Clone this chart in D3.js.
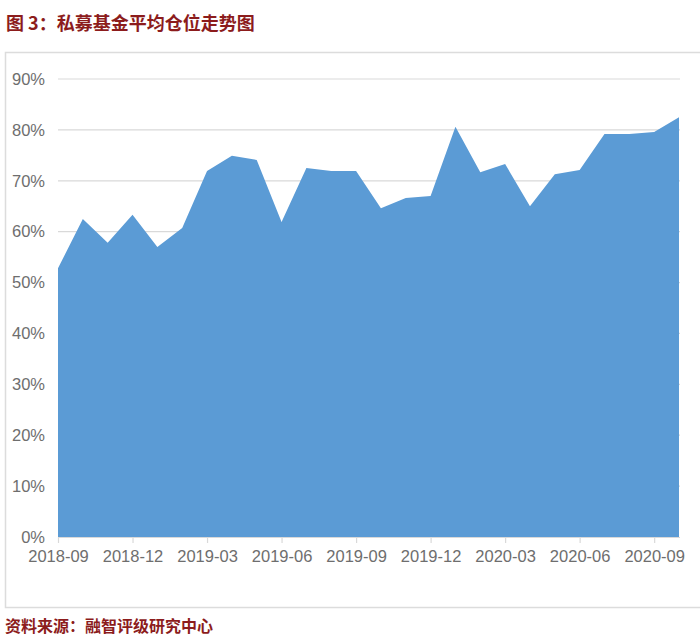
<!DOCTYPE html>
<html><head><meta charset="utf-8">
<script src="https://cdn.jsdelivr.net/npm/d3@7"></script>
<style>body{margin:0;background:#fff;}svg{display:block;}</style>
</head><body>
<svg id="c" width="700" height="638"></svg>
<script>
const months = ["2018-09","2018-10","2018-11","2018-12","2019-01","2019-02","2019-03","2019-04","2019-05","2019-06","2019-07","2019-08","2019-09","2019-10","2019-11","2019-12","2020-01","2020-02","2020-03","2020-04","2020-05","2020-06","2020-07","2020-08","2020-09","2020-10"];
const positions = [52.8,62.5,57.8,63.3,57.0,60.7,71.9,74.9,74.1,61.9,72.5,71.9,71.9,64.6,66.6,67.0,80.6,71.7,73.3,65.0,71.3,72.1,79.2,79.2,79.6,82.5];
const xTickLabels = ["2018-09","2018-12","2019-03","2019-06","2019-09","2019-12","2020-03","2020-06","2020-09"];
const yTicks = [0,10,20,30,40,50,60,70,80,90];

const svg = d3.select("#c");
const font = "'Liberation Sans', Arial, 'Noto Sans CJK SC', sans-serif";
const cjk = "'Noto Sans CJK SC', sans-serif";

svg.append("text").attr("x",6).attr("y",30).attr("fill","#8c1c1c")
  .attr("font-family",cjk).attr("font-size",18).attr("font-weight","bold")
  .text("图 3：私募基金平均仓位走势图");

svg.append("rect").attr("x",5.5).attr("y",52.5).attr("width",710).attr("height",555)
  .attr("fill","none").attr("stroke","#dcdcdc").attr("stroke-width",1.5);

const x = d3.scalePoint().domain(months).range([58,679]);
const y = d3.scaleLinear().domain([0,90]).range([537,79]);

const grid = svg.append("g");
grid.selectAll("line").data(yTicks.filter(d=>d>0)).join("line")
  .attr("x1",58).attr("x2",680).attr("y1",d=>y(d)).attr("y2",d=>y(d))
  .attr("stroke","#d9d9d9").attr("stroke-width",1.2);

const area = d3.area().x((d,i)=>x(months[i])).y0(y(0)).y1(d=>y(d));
svg.append("path").datum(positions).attr("d",area).attr("fill","#5b9bd5");

const xAxis = d3.axisBottom(x).tickValues(xTickLabels).tickSize(6).tickSizeOuter(0).tickPadding(7);
const gx = svg.append("g").attr("transform",`translate(0,${y(0)})`).call(xAxis);
gx.select(".domain").attr("stroke","#d9d9d9").attr("stroke-width",1.2).attr("d","M58,0.5H680");
gx.selectAll(".tick line").attr("stroke","#d9d9d9").attr("stroke-width",1.2);
gx.selectAll(".tick text").attr("fill","#6e6e6e").attr("font-family",font).attr("font-size",16.5);

const yAxis = d3.axisLeft(y).tickValues(yTicks).tickFormat(d=>d+"%").tickSize(0).tickPadding(13);
const gy = svg.append("g").attr("transform","translate(58,0)").call(yAxis);
gy.select(".domain").remove();
gy.selectAll(".tick text").attr("fill","#6e6e6e").attr("font-family",font).attr("font-size",16.5);

svg.append("text").attr("x",5).attr("y",632).attr("fill","#8c1c1c")
  .attr("font-family",cjk).attr("font-size",16).attr("font-weight","bold")
  .text("资料来源：融智评级研究中心");
</script>
</body></html>
